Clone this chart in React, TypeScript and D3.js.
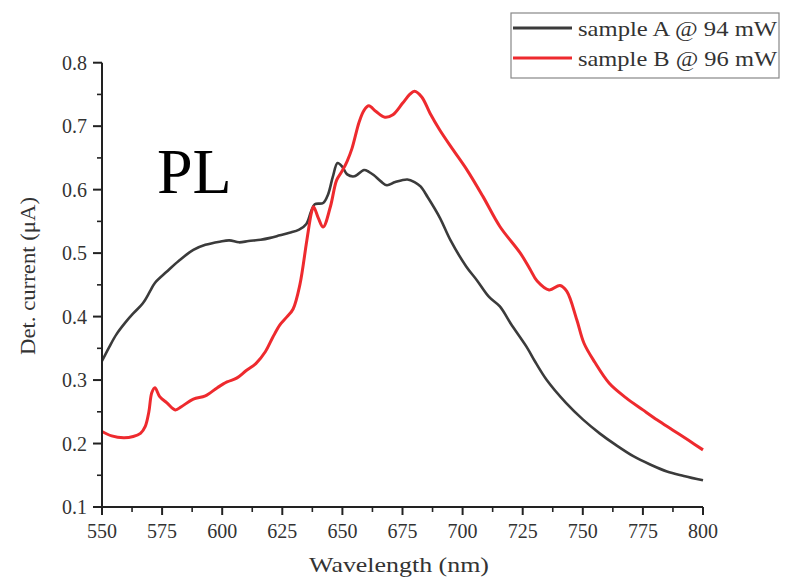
import React from "react";
import * as d3 from "d3";

const sampleAWavelength = [550, 553, 556, 560, 563, 567, 570, 572, 577, 582, 588, 593, 599, 603, 607, 611, 616, 620, 624, 628, 632, 635, 637, 638.5, 642, 644, 646, 648, 650, 652, 655, 659, 661, 663, 666, 668.5, 672, 677, 680, 682.5, 685.5, 690.5, 695, 701.5, 706, 711, 715.5, 720, 727, 730, 735, 743, 750, 757, 764, 771, 778, 785, 792, 800];
const sampleAValues = [0.330, 0.352, 0.372, 0.392, 0.405, 0.421, 0.440, 0.453, 0.471, 0.488, 0.505, 0.513, 0.518, 0.520, 0.517, 0.519, 0.521, 0.524, 0.528, 0.532, 0.537, 0.546, 0.566, 0.577, 0.579, 0.592, 0.620, 0.642, 0.636, 0.624, 0.621, 0.631, 0.628, 0.623, 0.613, 0.607, 0.612, 0.616, 0.612, 0.605, 0.588, 0.556, 0.520, 0.479, 0.457, 0.431, 0.416, 0.389, 0.350, 0.330, 0.300, 0.264, 0.238, 0.216, 0.197, 0.180, 0.167, 0.156, 0.149, 0.142];

const sampleBWavelength = [550, 554, 559, 563, 566, 568, 569.5, 570.7, 572, 574, 577, 580.5, 583, 588, 593, 598, 602, 606, 610, 614, 618, 621, 624, 627, 629.5, 632.3, 635.2, 637.2, 638, 640, 642, 645, 647.6, 650, 652, 654, 657, 659, 661, 664, 667.7, 671, 675, 678, 680, 683, 686.5, 690.5, 696, 702, 708.5, 715.5, 724, 728, 731, 736, 740.5, 743.3, 747.5, 750.5, 755, 761, 768, 775, 781, 787.5, 794, 800];
const sampleBValues = [0.219, 0.212, 0.209, 0.211, 0.216, 0.227, 0.250, 0.280, 0.288, 0.274, 0.264, 0.253, 0.258, 0.270, 0.275, 0.288, 0.297, 0.303, 0.315, 0.326, 0.345, 0.367, 0.387, 0.400, 0.412, 0.450, 0.520, 0.565, 0.573, 0.555, 0.541, 0.573, 0.615, 0.630, 0.645, 0.665, 0.707, 0.725, 0.732, 0.723, 0.714, 0.718, 0.736, 0.750, 0.755, 0.746, 0.720, 0.694, 0.663, 0.630, 0.589, 0.542, 0.500, 0.475, 0.456, 0.442, 0.449, 0.440, 0.395, 0.358, 0.328, 0.295, 0.272, 0.253, 0.237, 0.221, 0.205, 0.190];

const xTicks = [550, 575, 600, 625, 650, 675, 700, 725, 750, 775, 800];
const xMinorTicks = [562.5, 587.5, 612.5, 637.5, 662.5, 687.5, 712.5, 737.5, 762.5, 787.5];
const yTicks = [0.1, 0.2, 0.3, 0.4, 0.5, 0.6, 0.7, 0.8];
const yMinorTicks = [0.15, 0.25, 0.35, 0.45, 0.55, 0.65, 0.75];
const seriesNames = ["sample A @ 94 mW", "sample B @ 96 mW"];
const seriesColors = ["#3b3b3b", "#ee2a2e"];

export default function App() {
  const W = 793, H = 579;
  const x = d3.scaleLinear().domain([550, 800]).range([102, 703]);
  const y = d3.scaleLinear().domain([0.1, 0.8]).range([507, 62.7]);
  const line = d3.line<[number, number]>().x(d => x(d[0])).y(d => y(d[1])).curve(d3.curveCatmullRom.alpha(0.5));
  const dataA = sampleAWavelength.map((w, i) => [w, sampleAValues[i]] as [number, number]);
  const dataB = sampleBWavelength.map((w, i) => [w, sampleBValues[i]] as [number, number]);
  const font = "Liberation Serif";
  const axisColor = "#222";
  const textColor = "#333";

  return (
    <svg width={W} height={H} style={{ position: "absolute", left: 0, top: 0, background: "#fff", fontFamily: font }}>
      <rect width={W} height={H} fill="#fff" />
      {/* data lines */}
      <path d={line(dataA) || ""} fill="none" stroke={seriesColors[0]} strokeWidth={2.6} strokeLinejoin="round" />
      <path d={line(dataB) || ""} fill="none" stroke={seriesColors[1]} strokeWidth={3} strokeLinejoin="round" />

      {/* axes */}
      <line x1={x(550)} x2={x(800)} y1={y(0.1)} y2={y(0.1)} stroke={axisColor} strokeWidth={2} />
      <line x1={x(550)} x2={x(550)} y1={y(0.1)} y2={y(0.8)} stroke={axisColor} strokeWidth={2} />
      {xTicks.map(t => (
        <g key={"xt" + t}>
          <line x1={x(t)} x2={x(t)} y1={y(0.1)} y2={y(0.1) + 8} stroke={axisColor} strokeWidth={2} />
          <text x={x(t)} y={538} textAnchor="middle" fontSize={20} fill={textColor} style={{ fontFamily: font }}>{t}</text>
        </g>
      ))}
      {xMinorTicks.map(t => (
        <line key={"xm" + t} x1={x(t)} x2={x(t)} y1={y(0.1)} y2={y(0.1) + 5} stroke={axisColor} strokeWidth={1.6} />
      ))}
      {yTicks.map(t => (
        <g key={"yt" + t}>
          <line x1={x(550) - 9} x2={x(550)} y1={y(t)} y2={y(t)} stroke={axisColor} strokeWidth={2} />
          <text x={87} y={y(t) + 7} textAnchor="end" fontSize={20} fill={textColor} style={{ fontFamily: font }}>{t.toFixed(1)}</text>
        </g>
      ))}
      {yMinorTicks.map(t => (
        <line key={"ym" + t} x1={x(550) - 5} x2={x(550)} y1={y(t)} y2={y(t)} stroke={axisColor} strokeWidth={1.6} />
      ))}

      {/* axis titles */}
      <text x={399} y={572} textAnchor="middle" fontSize={22} fill={textColor} textLength={180} lengthAdjust="spacingAndGlyphs" style={{ fontFamily: font }}>Wavelength (nm)</text>
      <text transform={`translate(35,276) rotate(-90)`} textAnchor="middle" fontSize={21} fill={textColor} textLength={158} lengthAdjust="spacingAndGlyphs" style={{ fontFamily: font }}>Det. current (μA)</text>

      {/* PL label */}
      <text x={157} y={193} fontSize={64} fill="#000" style={{ fontFamily: font }}>PL</text>

      {/* legend */}
      <rect x={511} y={13} width={268} height={65} fill="#fff" stroke="#888" strokeWidth={1.2} />
      {seriesNames.map((n, i) => (
        <g key={n}>
          <line x1={513} x2={572} y1={28 + i * 30} y2={28 + i * 30} stroke={seriesColors[i]} strokeWidth={3} />
          <text x={578} y={36 + i * 30} fontSize={21} fill={textColor} textLength={199} lengthAdjust="spacingAndGlyphs" style={{ fontFamily: font }}>{n}</text>
        </g>
      ))}
    </svg>
  );
}
